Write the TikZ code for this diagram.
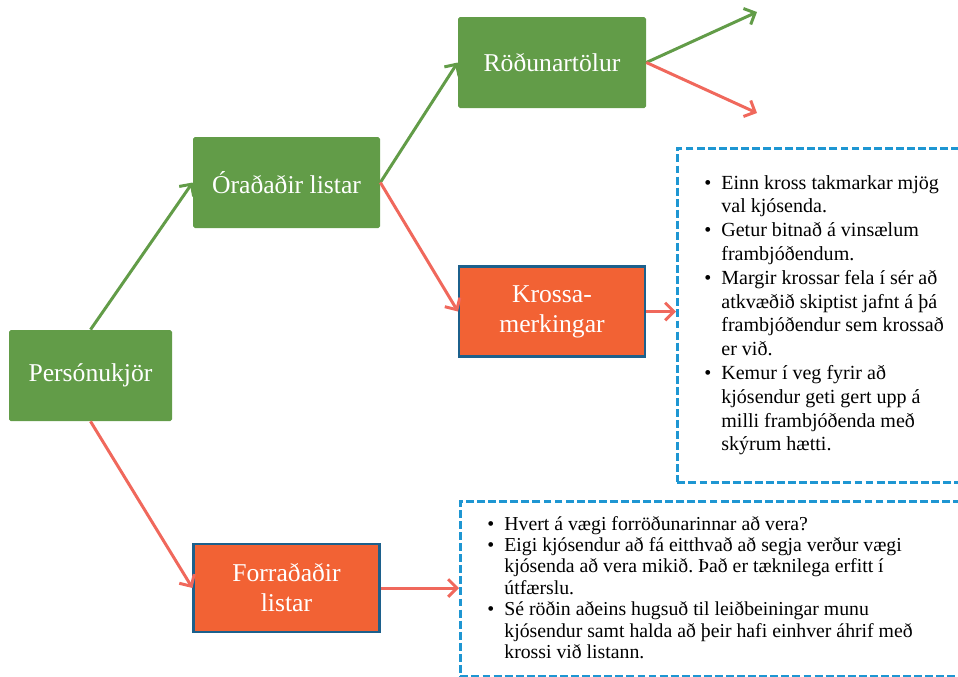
\documentclass[tikz,border=0pt]{standalone}
\usepackage{fontspec}
\setmainfont{Liberation Serif}
\usetikzlibrary{positioning,arrows.meta}
\frenchspacing

\definecolor{boxgreen}{RGB}{98,156,72}
\definecolor{boxorange}{RGB}{242,98,52}
\definecolor{rimblue}{RGB}{28,96,140}
\definecolor{arrowred}{RGB}{240,104,92}
\definecolor{dashblue}{RGB}{30,150,210}

\begin{document}
\begin{tikzpicture}[x=0.02cm, y=-0.02cm,
  greenbox/.style={fill=boxgreen, text=white, rounded corners=1pt, inner sep=0pt,
    align=center, font=\fontsize{14.6}{17}\selectfont},
  orangebox/.style={greenbox, fill=boxorange, draw=rimblue, line width=1.2pt, rounded corners=0pt},
  notebox/.style={draw=dashblue, dash pattern=on 4.5pt off 1.8pt, line width=1.6pt,
    anchor=north west, inner sep=0pt},
  notetext/.style={anchor=base west, inner sep=0pt, align=left},
  garrow/.style={draw=boxgreen, line width=1.7pt, -{Straight Barb[length=5pt,width=10pt]}},
  rarrow/.style={garrow, draw=arrowred}]
\def\px{0.02cm}
\useasboundingbox (0,0) rectangle (958,677);
\clip (0,0) rectangle (958,677);

\def\xa{90.5}
\def\xb{286.5}
\def\xc{552}

\def\ya{62.5}
\def\yb{182.5}
\def\yc{311.5}
\def\yd{375.5}
\def\ye{588}

\node[greenbox, minimum width=163*\px, minimum height=91*\px] (pk) at (\xa, \yd) {Persónukjör};
\node[greenbox, minimum width=187*\px, minimum height=91*\px] (ol) at (\xb, \yb) {Óraðaðir listar};
\node[greenbox, minimum width=188*\px, minimum height=91*\px] (rt) at (\xc, \ya) {Röðunartölur};
\node[orangebox, minimum width=186*\px, minimum height=90*\px] (km) at (\xc, \yc) {Krossa-\\merkingar};
\node[orangebox, minimum width=186*\px, minimum height=88*\px] (fl) at (\xb, \ye) {Forraðaðir\\listar};

% notes
\node[notebox, minimum width=400*\px, minimum height=334*\px] (nb1) at (676, 147) {};
\node[notebox, minimum width=600*\px, minimum height=175*\px] (nb2) at (459, 500) {};

\node[notetext, font=\fontsize{11.4}{13.55}\selectfont] (nt1) at (704, 189) {%
\begin{tabular}[t]{@{}p{9.7pt}@{}l@{}}
\textbullet & Einn kross takmarkar mjög\\
 & val kjósenda.\\
\textbullet & Getur bitnað á vinsælum\\
 & frambjóðendum.\\
\textbullet & Margir krossar fela í sér að\\
 & atkvæðið skiptist jafnt á þá\\
 & frambjóðendur sem krossað\\
 & er við.\\
\textbullet & Kemur í veg fyrir að\\
 & kjósendur geti gert upp á\\
 & milli frambjóðenda með\\
 & skýrum hætti.
\end{tabular}};

\node[notetext, font=\fontsize{11.25}{12.2}\selectfont] (nt2) at (487, 530) {%
\begin{tabular}[t]{@{}p{9.7pt}@{}l@{}}
\textbullet & Hvert á vægi forröðunarinnar að vera?\\
\textbullet & Eigi kjósendur að fá eitthvað að segja verður vægi\\
 & kjósenda að vera mikið. Það er tæknilega erfitt í\\
 & útfærslu.\\
\textbullet & Sé röðin aðeins hugsuð til leiðbeiningar munu\\
 & kjósendur samt halda að þeir hafi einhver áhrif með\\
 & krossi við listann.
\end{tabular}};

\coordinate (up) at (757, 12);
\coordinate (down) at (757, 113);

\draw[garrow] (pk.north) -- (ol.west);
\draw[rarrow] (pk.south) -- (fl.west);
\draw[garrow] (ol.east) -- (rt.west);
\draw[rarrow] (ol.east) -- (km.west);
\draw[garrow] (rt.east) -- (up);
\draw[rarrow] (rt.east) -- (down);
\draw[rarrow] (km.east) -- (km.east -| nb1.west);
\draw[rarrow] (fl.east) -- (fl.east -| nb2.west);
\end{tikzpicture}
\end{document}
